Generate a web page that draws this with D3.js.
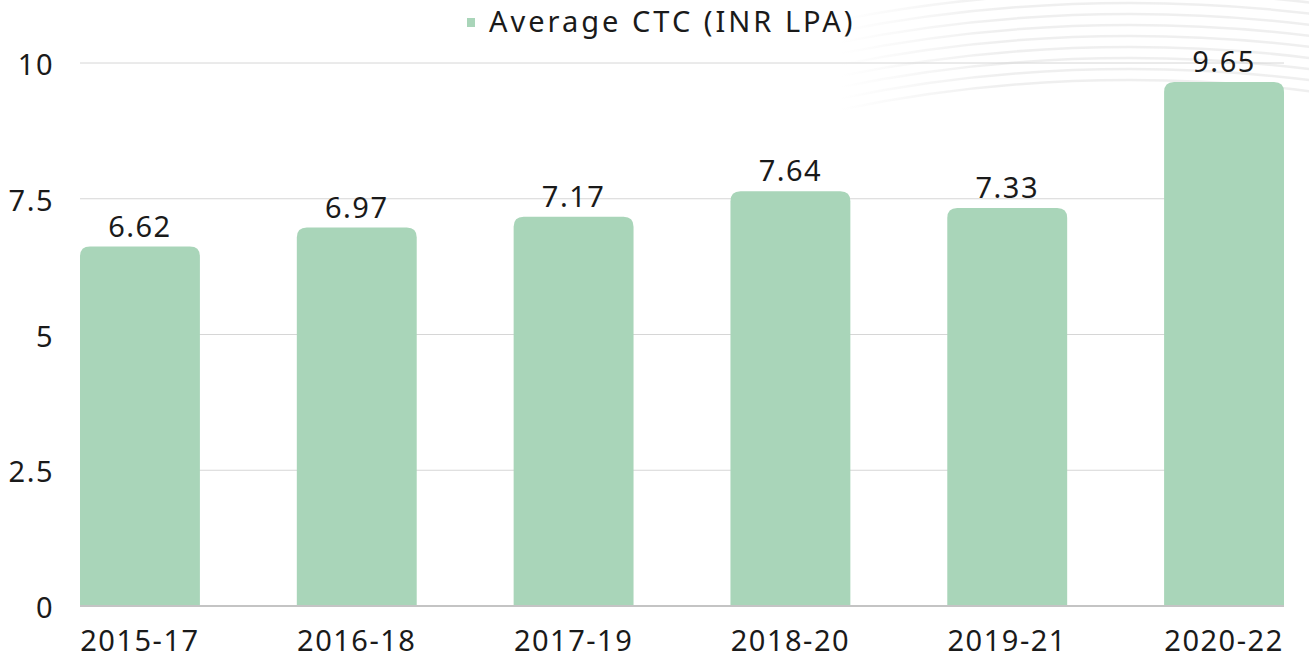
<!DOCTYPE html>
<html>
    <head>
        <meta charset="utf-8">
        <script src="https://cdn.jsdelivr.net/npm/d3@7"></script>
        <style>
            body { margin: 0; background: white; }
            text { font-family: "Noto Sans", sans-serif; fill: #1a1a1a; font-size: 29px; letter-spacing: 1.5px; }
        </style>
    </head>
    <body>
        <svg id="fig" width="1309" height="658"></svg>
        <script>
            const periods = ["2015-17", "2016-18", "2017-19", "2018-20", "2019-21", "2020-22"];
            const avgCTC = [6.62, 6.97, 7.17, 7.64, 7.33, 9.65];
            const yTicks = [0, 2.5, 5, 7.5, 10];
            const seriesName = "Average CTC (INR LPA)";

            const barColor = "#a9d5b9";
            const plotLeft = 80, plotRight = 1284, plotTop = 63, plotBottom = 606;

            const svg = d3.select("#fig");

            // faint decorative arcs behind the chart, top right
            const defs = svg.append("defs");
            const grad = defs.append("linearGradient")
                             .attr("id", "arcFade")
                             .attr("gradientUnits", "userSpaceOnUse")
                             .attr("x1", 840).attr("x2", 1000).attr("y1", 0).attr("y2", 0);
            grad.append("stop").attr("offset", 0).attr("stop-color", "#efefef").attr("stop-opacity", 0);
            grad.append("stop").attr("offset", 1).attr("stop-color", "#efefef").attr("stop-opacity", 1);
            defs.append("clipPath").attr("id", "arcClip")
                .append("rect").attr("x", 840).attr("y", 0).attr("width", 469).attr("height", 120);

            const deco = svg.append("g").attr("clip-path", "url(#arcClip)");
            for (let i = 0; i < 9; i++) {
                deco.append("circle")
                    .attr("cx", 1130).attr("cy", 1500)
                    .attr("r", 1420 + i * 11)
                    .attr("fill", "none")
                    .attr("stroke", "url(#arcFade)")
                    .attr("stroke-width", 2.5);
            }

            const x = d3.scaleBand()
                        .domain(periods)
                        .range([plotLeft, plotRight])
                        .paddingInner(0.447)
                        .paddingOuter(0);

            const y = d3.scaleLinear()
                        .domain([0, 10])
                        .range([plotBottom, plotTop]);

            // gridlines
            svg.append("g").selectAll("line").data(yTicks.filter(t => t > 0))
               .enter().append("line")
               .attr("x1", plotLeft).attr("x2", plotRight)
               .attr("y1", d => y(d)).attr("y2", d => y(d))
               .attr("stroke", "#d6d6d6").attr("stroke-width", 1);

            // y tick labels
            svg.append("g").selectAll("text").data(yTicks)
               .enter().append("text")
               .attr("x", 54)
               .attr("y", d => y(d) + 12)
               .attr("text-anchor", "end")
               .text(d => d);

            // bars with rounded tops
            const r = 10;
            svg.append("g").selectAll("path").data(avgCTC)
               .enter().append("path")
               .attr("fill", barColor)
               .attr("d", (v, i) => {
                   const x0 = x(periods[i]), w = x.bandwidth();
                   const y0 = y(v), y1 = y(0);
                   return `M${x0},${y1}V${y0 + r}Q${x0},${y0} ${x0 + r},${y0}` +
                          `H${x0 + w - r}Q${x0 + w},${y0} ${x0 + w},${y0 + r}V${y1}Z`;
               });

            // zero line
            svg.append("line")
               .attr("x1", plotLeft).attr("x2", plotRight)
               .attr("y1", y(0)).attr("y2", y(0))
               .attr("stroke", "#c4c4c4").attr("stroke-width", 2);

            // value labels
            svg.append("g").selectAll("text").data(avgCTC)
               .enter().append("text")
               .attr("x", (v, i) => x(periods[i]) + x.bandwidth() / 2)
               .attr("y", v => y(v) - 10)
               .attr("text-anchor", "middle")
               .text(v => v.toFixed(2));

            // category labels
            svg.append("g").selectAll("text").data(periods)
               .enter().append("text")
               .attr("x", d => x(d) + x.bandwidth() / 2)
               .attr("y", 651)
               .attr("text-anchor", "middle")
               .text(d => d);

            // legend
            svg.append("rect")
               .attr("x", 467).attr("y", 18)
               .attr("width", 8).attr("height", 9)
               .attr("fill", barColor);
            svg.append("text")
               .attr("x", 489).attr("y", 32)
               .style("letter-spacing", "3px")
               .text(seriesName);
        </script>
    </body>
</html>
